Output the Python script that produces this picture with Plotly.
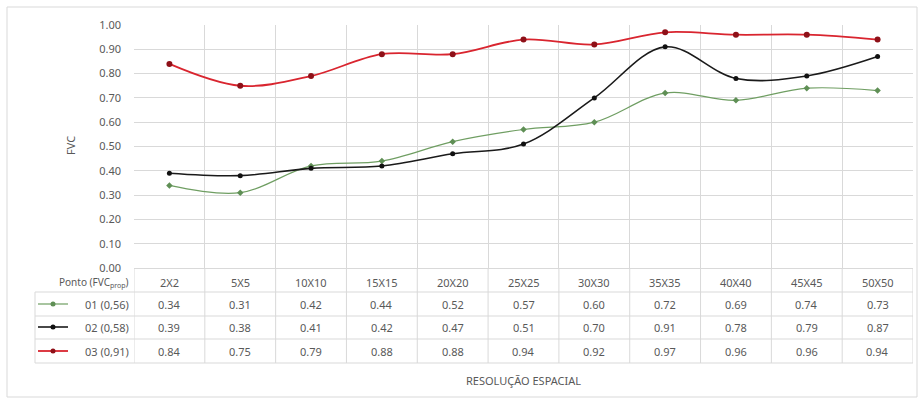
import plotly.graph_objects as go

# Spatial resolutions (window sizes)
categories = ["2X2", "5X5", "10X10", "15X15", "20X20", "25X25",
              "30X30", "35X35", "40X40", "45X45", "50X50"]

# FVC values per sampling point
ponto_01 = [0.34, 0.31, 0.42, 0.44, 0.52, 0.57, 0.60, 0.72, 0.69, 0.74, 0.73]
ponto_02 = [0.39, 0.38, 0.41, 0.42, 0.47, 0.51, 0.70, 0.91, 0.78, 0.79, 0.87]
ponto_03 = [0.84, 0.75, 0.79, 0.88, 0.88, 0.94, 0.92, 0.97, 0.96, 0.96, 0.94]

series_names = ["01 (0,56)", "02 (0,58)", "03 (0,91)"]
header_label = "Ponto (FVC<sub>prop</sub>)"
y_ticks = [0.0, 0.1, 0.2, 0.3, 0.4, 0.5, 0.6, 0.7, 0.8, 0.9, 1.0]

W, H = 922, 402
L, R, T, B = 134, 9, 25, 134
PW, PH = W - L - R, H - T - B
FONT = "Noto Sans"
TXT = "#595959"
GRID = "#d9d9d9"


def px_x(px):
    return (px - L) / PW


def px_y(py):
    return (H - B - py) / PH


styles = [
    dict(color="#6f9e62", width=1.2, mcolor="#5f8f55", msize=5, symbol="diamond"),
    dict(color="#1a1a1a", width=1.6, mcolor="#111111", msize=5, symbol="circle"),
    dict(color="#d9252f", width=1.8, mcolor="#8e1018", msize=6, symbol="circle"),
]
all_series = [ponto_01, ponto_02, ponto_03]

fig = go.Figure()
for name, vals, st in zip(series_names, all_series, styles):
    fig.add_trace(go.Scatter(
        x=categories, y=vals, name=name, mode="lines+markers",
        line=dict(color=st["color"], width=st["width"], shape="spline", smoothing=1.0),
        marker=dict(color=st["mcolor"], size=st["msize"], symbol=st["symbol"]),
        showlegend=False, hoverinfo="x+y+name",
    ))

shapes = []
annotations = []

# Outer chart border
shapes.append(dict(type="rect", xref="paper", yref="paper",
                   x0=px_x(7), x1=px_x(917), y0=px_y(397), y1=px_y(7),
                   line=dict(color="#d9d9d9", width=1), layer="below"))

# Data table geometry
row_lines = [292, 316, 339, 363]
row_centers = [304, 327, 351]
header_center = 282
legend_left = 35

# Horizontal table lines
for py in row_lines:
    shapes.append(dict(type="line", xref="paper", yref="paper",
                       x0=px_x(legend_left), x1=1, y0=px_y(py), y1=px_y(py),
                       line=dict(color=GRID, width=1)))
# Vertical table lines at category boundaries
for k in range(len(categories) + 1):
    shapes.append(dict(type="line", xref="x", yref="paper",
                       x0=k - 0.5, x1=k - 0.5, y0=0, y1=px_y(row_lines[-1]),
                       line=dict(color=GRID, width=1)))
# Left edge of the legend column
shapes.append(dict(type="line", xref="paper", yref="paper",
                   x0=px_x(legend_left), x1=px_x(legend_left),
                   y0=px_y(row_lines[0]), y1=px_y(row_lines[-1]),
                   line=dict(color=GRID, width=1)))

# Header row: category labels
for i, c in enumerate(categories):
    annotations.append(dict(x=i, y=px_y(header_center), xref="x", yref="paper",
                            xanchor="center", yanchor="middle",
                            text=c, showarrow=False,
                            font=dict(family=FONT, size=11, color=TXT)))
annotations.append(dict(x=px_x(131), y=px_y(header_center), xref="paper", yref="paper",
                        text=header_label, showarrow=False,
                        xanchor="right", yanchor="middle",
                        font=dict(family=FONT, size=10, color=TXT)))

# Value rows with legend keys
for r, (name, vals, st) in enumerate(zip(series_names, all_series, styles)):
    yc = px_y(row_centers[r])
    for i, v in enumerate(vals):
        annotations.append(dict(x=i, y=yc, xref="x", yref="paper",
                                xanchor="center", yanchor="middle",
                                text=f"{v:.2f}", showarrow=False,
                                font=dict(family=FONT, size=11, color=TXT)))
    shapes.append(dict(type="line", xref="paper", yref="paper",
                       x0=px_x(38), x1=px_x(68), y0=yc, y1=yc,
                       line=dict(color=st["color"], width=st["width"])))
    shapes.append(dict(type="circle", xref="paper", yref="paper",
                       xsizemode="pixel", ysizemode="pixel",
                       xanchor=px_x(53), yanchor=yc,
                       x0=-2.5, x1=2.5, y0=-2.5, y1=2.5,
                       fillcolor=st["mcolor"], line=dict(color=st["mcolor"], width=0)))
    annotations.append(dict(x=px_x(131), y=yc, xref="paper", yref="paper",
                            text=name, showarrow=False,
                            xanchor="right", yanchor="middle",
                            font=dict(family=FONT, size=11, color=TXT)))

# Axis titles
annotations.append(dict(x=0.5, y=px_y(380), xref="paper", yref="paper",
                        xanchor="center", yanchor="middle",
                        text="RESOLUÇÃO ESPACIAL", showarrow=False,
                        font=dict(family=FONT, size=11, color=TXT)))
annotations.append(dict(x=px_x(70), y=px_y(146), xref="paper", yref="paper",
                        xanchor="center", yanchor="middle",
                        text="FVC", showarrow=False, textangle=-90,
                        font=dict(family=FONT, size=11, color=TXT)))

fig.update_layout(
    width=W, height=H,
    margin=dict(l=L, r=R, t=T, b=B, pad=0),
    paper_bgcolor="white", plot_bgcolor="white",
    font=dict(family=FONT, size=11, color=TXT),
    shapes=shapes, annotations=annotations,
    xaxis=dict(type="category", range=[-0.5, len(categories) - 0.5],
               showticklabels=False, showgrid=True, gridcolor=GRID,
               tickson="boundaries", ticks="", zeroline=False,
               showline=True, linecolor=GRID, mirror=False),
    yaxis=dict(range=[0, 1.0], tickvals=y_ticks, tickformat=".2f",
               showgrid=True, gridcolor=GRID, zeroline=False,
               ticks="", ticklabelstandoff=12,
               tickfont=dict(family=FONT, size=11, color=TXT),
               showline=False),
)

fig.write_html("out.html")
